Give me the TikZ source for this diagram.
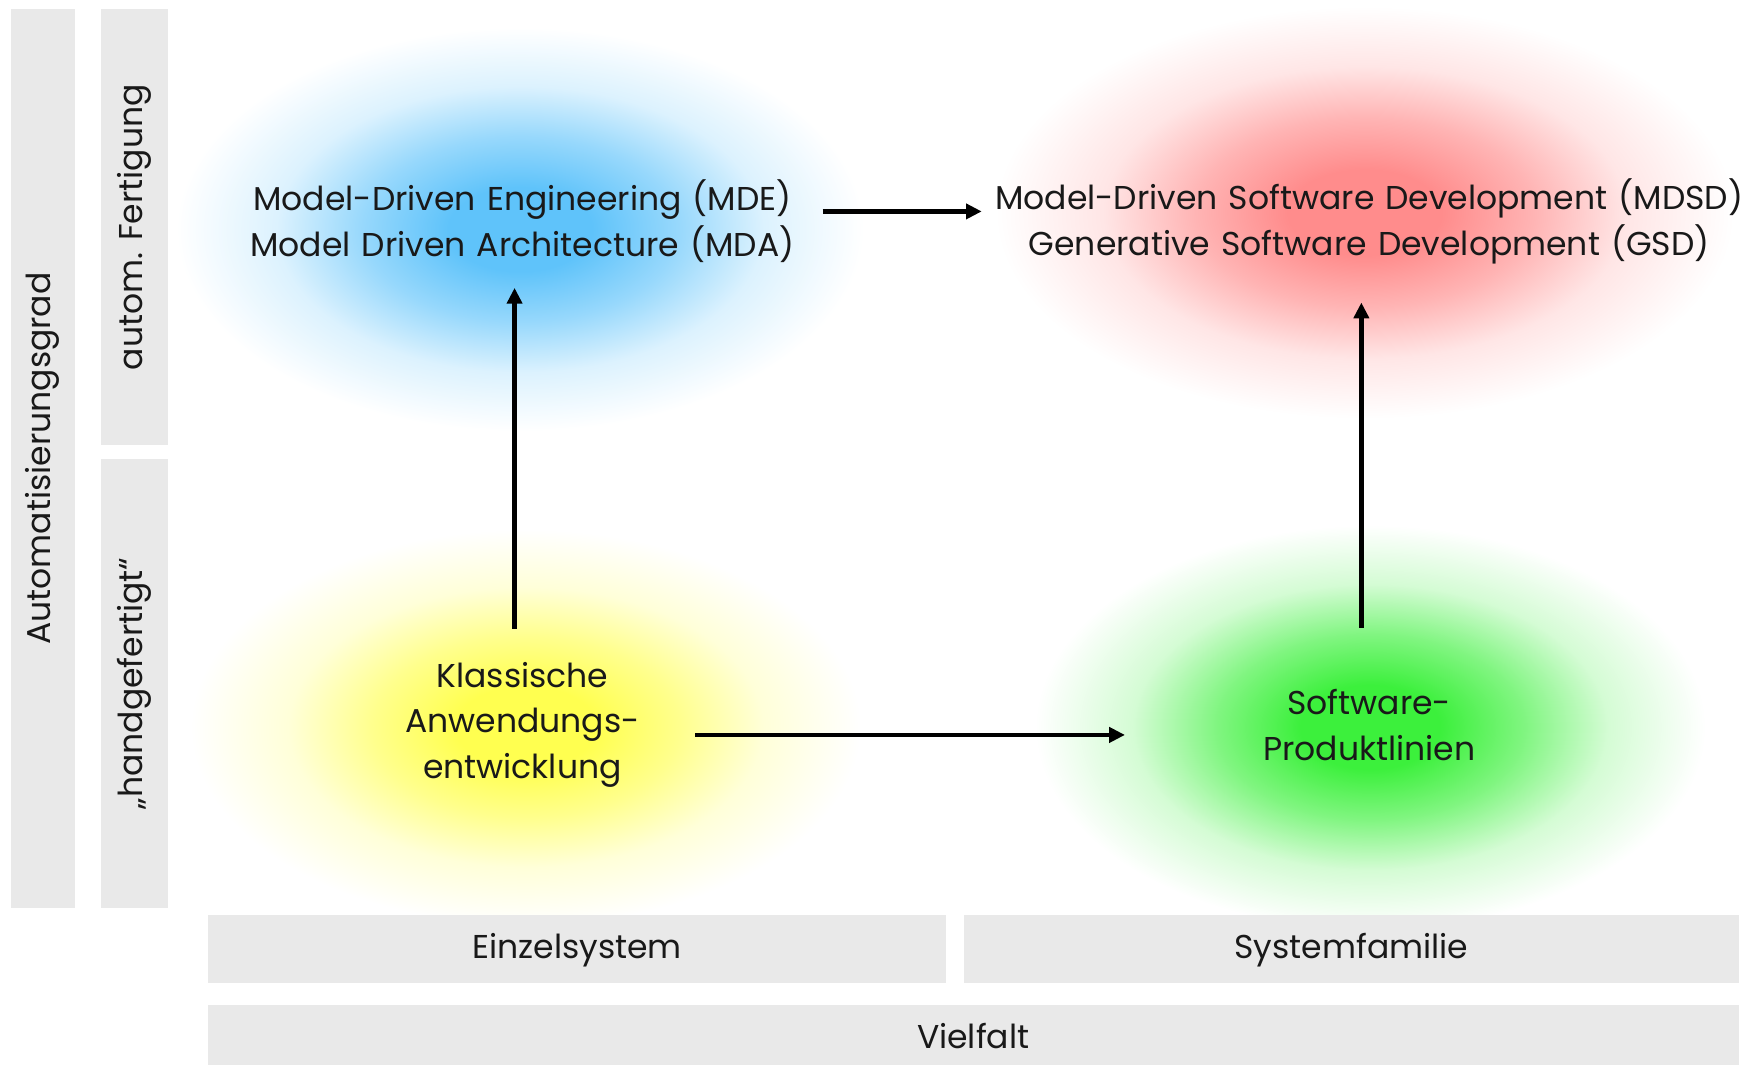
\documentclass[tikz,border=0pt]{standalone}
\usepackage{fontspec}
\setmainfont{Poppins}
\usetikzlibrary{arrows.meta,positioning,shadings}
\definecolor{barfill}{RGB}{233,233,233}
\definecolor{blobblue}{RGB}{95,195,250}
\definecolor{blobred}{RGB}{255,140,140}
\definecolor{blobyellow}{RGB}{255,255,80}
\definecolor{blobgreen}{RGB}{60,240,60}
\newcommand{\declareblob}[2]
{
% args: (shading name, colour)
    \pgfdeclareradialshading{#1}{\pgfpoint{0bp}{0bp}}{color(0bp)=(#2); color(5bp)=(#2); color(11bp)=(#2!65!white); color(17bp)=(#2!22!white); color(24bp)=(white); color(50bp)=(white)}
}
\declareblob{blueblob}{blobblue}
\declareblob{redblob}{blobred}
\declareblob{yellowblob}{blobyellow}
\declareblob{greenblob}{blobgreen}
\tikzset{greybar/.style={fill=barfill,draw=none},
    blobtext/.style={align=center,inner sep=0,text=black!90,font=\fontsize{21}{29.2}\selectfont},
    sidelabel/.style={inner sep=0,text=black!90,font=\fontsize{21}{29.2}\selectfont},
    flowarrow/.style={-{Triangle[length=10pt,width=9.5pt]},line width=2.8pt}
}
\begin{document}
\begin{tikzpicture}[x=0.025cm,y=-0.025cm]
\useasboundingbox (0,0) rectangle (1568,952);

% blobs
\shade[shading=blueblob] (465,205) ellipse (8cm and 4.7cm);
\shade[shading=redblob] (1220,190) ellipse (8.6cm and 4.8cm);
\shade[shading=yellowblob] (470,650) ellipse (7.8cm and 4.6cm);
\shade[shading=greenblob] (1225,650) ellipse (7.8cm and 4.7cm);

% axis bars
\fill[greybar] (10,8) rectangle (67,812);
\fill[greybar] (90,8) rectangle (150,398);
\fill[greybar] (90,410) rectangle (150,812);
\fill[greybar] (186,818) rectangle (846,879);
\fill[greybar] (862,818) rectangle (1555,879);
\fill[greybar] (186,898) rectangle (1555,952);

\node (grad) [sidelabel,rotate=90] at (38,410) {Automatisierungsgrad};
\node (autom) [sidelabel,rotate=90] at (120,203) {autom. Fertigung};
\node (hand) [sidelabel,rotate=90] at (120,611) {„handgefertigt“};
\node (einzel) [sidelabel] at (516,849) {Einzelsystem};
\node (familie) [sidelabel] at (1208,849) {Systemfamilie};
\node (vielfalt) [sidelabel] at (870,926) {Vielfalt};

% approaches
\node (mde) [blobtext,text width=12.4cm] at (467,198) {Model-Driven Engineering (MDE)\\Model Driven Architecture (MDA)};
\node (mdsd) [blobtext,text width=17.2cm] at (1224,198) {Model-Driven Software Development (MDSD)\\Generative Software Development (GSD)};
\node (klassisch) [blobtext,text width=5.5cm] at (467,648) {Klassische\\Anwendungs-\\entwicklung};
\node (spl) [blobtext,text width=5.5cm] at (1224,648) {Software-\\Produktlinien};

\draw [flowarrow,shorten <=0.5cm,shorten >=0.05cm] ([yshift=0.225cm]mde.east) -- ([yshift=0.225cm]mdsd.west);
\draw [flowarrow,shorten <=1.1cm,shorten >=2.7cm] ([yshift=-0.225cm]klassisch.east) -- ([yshift=-0.225cm]spl.west);
\draw [flowarrow,shorten <=0.73cm,shorten >=0.55cm] ([xshift=-0.175cm]klassisch.north) -- ([xshift=-0.175cm]mde.south);
\draw [flowarrow,shorten <=1.36cm,shorten >=0.85cm] ([xshift=-0.175cm]spl.north) -- ([xshift=-0.175cm]mdsd.south);

\end{tikzpicture}
\end{document}
